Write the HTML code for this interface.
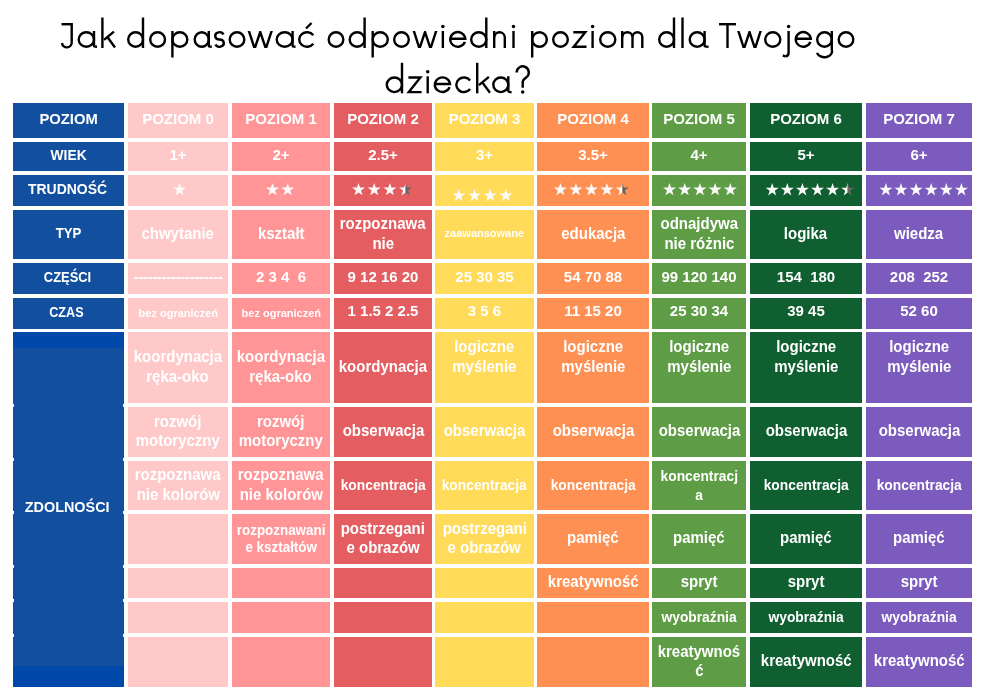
<!DOCTYPE html>
<html><head><meta charset="utf-8"><style>
html,body{margin:0;padding:0;background:#fff;width:1000px;height:695px;overflow:hidden;position:relative}
body{font-family:"Liberation Sans",sans-serif;-webkit-font-smoothing:antialiased}
.c,.t{will-change:transform}
.c{position:absolute;display:flex;flex-direction:column;align-items:center;justify-content:center;color:#fff;font-weight:bold;text-align:center;white-space:nowrap}
.c span{display:block}
.t{position:absolute;left:0;width:1000px;text-align:center;color:#000;font-size:36px;white-space:nowrap;-webkit-text-stroke:0.5px #fff}
</style></head><body>

<svg style="position:absolute;left:0;top:0" width="1000" height="100" fill="none" stroke="#000" stroke-width="2.4" stroke-linecap="butt" stroke-linejoin="miter"><clipPath id="cl0"><rect x="0" y="31" width="1000" height="17"/></clipPath><path d="M61.5 24.2H72.9"/><path d="M71.7 24.2V41.95A4.85 4.85 0 0 1 62 43"/><path d="M78.7 39.5A7.65 7.3 0 1 0 94 39.5A7.65 7.3 0 1 0 78.7 39.5"/><path d="M94 31V45.8Q94 46.8 97 46.8"/><path d="M102.4 17.5V48"/><path d="M104 39.8L113.9 31.6"/><path d="M107.2 36.8L115 47.5"/><path d="M128.2 39.5A7.4 7.3 0 1 0 143 39.5A7.4 7.3 0 1 0 128.2 39.5"/><path d="M143 17.5V48"/><path d="M150.2 39.5A7.4 7.3 0 1 0 165 39.5A7.4 7.3 0 1 0 150.2 39.5"/><path d="M172.4 39.5A7.45 7.3 0 1 0 187.3 39.5A7.45 7.3 0 1 0 172.4 39.5"/><path d="M172.4 31V57.5"/><path d="M194.7 39.5A7.05 7.3 0 1 0 208.8 39.5A7.05 7.3 0 1 0 194.7 39.5"/><path d="M208.8 31V45.8Q208.8 46.8 211.8 46.8"/><path d="M223.49 34.48A4.3 3.65 0 1 0 219.5 39.5A4.3 3.65 0 1 1 215.51 44.52"/><path d="M229.7 39.5A7.3 7.3 0 1 0 244.3 39.5A7.3 7.3 0 1 0 229.7 39.5"/><path d="M276.7 39.5A7.95 7.3 0 1 0 292.6 39.5A7.95 7.3 0 1 0 276.7 39.5"/><path d="M292.6 31V45.8Q292.6 46.8 295.5 46.8"/><path d="M313.3 35.21A7.79 7.3 0 1 0 313.3 43.79"/><path d="M306 28.5L311.5 23"/><path d="M328.7 39.5A7.3 7.3 0 1 0 343.3 39.5A7.3 7.3 0 1 0 328.7 39.5"/><path d="M349.7 39.5A7.45 7.3 0 1 0 364.6 39.5A7.45 7.3 0 1 0 349.7 39.5"/><path d="M364.6 17.5V48"/><path d="M372.7 39.5A7.55 7.3 0 1 0 387.8 39.5A7.55 7.3 0 1 0 372.7 39.5"/><path d="M372.7 31V57.5"/><path d="M394.2 39.5A7.3 7.3 0 1 0 408.8 39.5A7.3 7.3 0 1 0 394.2 39.5"/><path d="M442.85 31V48"/><path d="M450.2 38.7H465.3A7.55 7.3 0 1 0 464.89 41.88"/><path d="M471.2 39.5A7.55 7.3 0 1 0 486.3 39.5A7.55 7.3 0 1 0 471.2 39.5"/><path d="M486.3 17.5V48"/><path d="M494.2 31V48"/><path d="M494.2 37.5A5.3 5.3 0 0 1 504.8 37.5V48"/><path d="M513.5 31V48"/><path d="M532.2 39.5A7.3 7.3 0 1 0 546.8 39.5A7.3 7.3 0 1 0 532.2 39.5"/><path d="M532.2 31V57.5"/><path d="M553.2 39.5A7.3 7.3 0 1 0 567.8 39.5A7.3 7.3 0 1 0 553.2 39.5"/><path d="M573.3 32.2L585.3 32.2L573.7 46.8L586.5 46.8"/><path d="M592.6 31V48"/><path d="M600.2 39.5A7.55 7.3 0 1 0 615.3 39.5A7.55 7.3 0 1 0 600.2 39.5"/><path d="M622.2 31V48"/><path d="M622.2 37.35A5.15 5.15 0 0 1 632.5 37.35V48"/><path d="M632.5 37.1A4.9 4.9 0 0 1 642.3 37.1V48"/><path d="M659.2 39.5A7.4 7.3 0 1 0 674 39.5A7.4 7.3 0 1 0 659.2 39.5"/><path d="M674 17.5V48"/><path d="M682.5 17.5V48"/><path d="M689.7 39.5A7.45 7.3 0 1 0 704.6 39.5A7.45 7.3 0 1 0 689.7 39.5"/><path d="M704.6 31V45.8Q704.6 46.8 708.5 46.8"/><path d="M719 24.2H736"/><path d="M727.5 23V48"/><path d="M765.2 39.5A7.55 7.3 0 1 0 780.3 39.5A7.55 7.3 0 1 0 765.2 39.5"/><path d="M788.6 31V52.5Q788.6 56.3 785.3 56.3"/><path d="M785.4 56.3L782.8 55.5"/><path d="M795.7 38.7H810.8A7.55 7.3 0 1 0 810.39 41.88"/><path d="M817.2 39.5A7.3 7.3 0 1 0 831.8 39.5A7.3 7.3 0 1 0 817.2 39.5"/><path d="M831.8 31V49.5A7.3 5.69 0 0 1 817 52.9"/><path d="M838.7 39.5A7.3 7.3 0 1 0 853.3 39.5A7.3 7.3 0 1 0 838.7 39.5"/><path d="M247.9 28L254.64 48.6L260.25 32L265.86 48.6L272.6 28" clip-path="url(#cl0)"/><path d="M412.9 28L419.5 48.6L425 32L430.5 48.6L437.1 28" clip-path="url(#cl0)"/><path d="M737.4 28L744 48.6L749.5 32L755 48.6L761.6 28" clip-path="url(#cl0)"/><circle cx="442.85" cy="26.5" r="1.75" stroke="none" fill="#000"/><circle cx="513.5" cy="26.5" r="1.75" stroke="none" fill="#000"/><circle cx="592.6" cy="26.5" r="1.75" stroke="none" fill="#000"/><circle cx="788.6" cy="26.5" r="1.75" stroke="none" fill="#000"/><clipPath id="cl45"><rect x="0" y="76.3" width="1000" height="17"/></clipPath><path d="M386.8 84.8A7.6 7.3 0 1 0 402 84.8A7.6 7.3 0 1 0 386.8 84.8"/><path d="M402 62.8V93.3"/><path d="M408.4 77.5L420.4 77.5L408.8 92.1L421.6 92.1"/><path d="M427.7 76.3V93.3"/><path d="M434.8 84H450A7.6 7.3 0 1 0 449.59 87.18"/><path d="M470.1 80.51A7.63 7.3 0 1 0 470.1 89.09"/><path d="M477.2 62.8V93.3"/><path d="M478.9 85.1L488.9 76.9"/><path d="M482.1 82.1L490 92.8"/><path d="M493.3 84.8A7.5 7.3 0 1 0 508.3 84.8A7.5 7.3 0 1 0 493.3 84.8"/><path d="M508.3 76.3V91.1Q508.3 92.1 511.6 92.1"/><path d="M516.7 72.45A6.05 6.05 0 1 1 526.08 77.47Q522.7 80 522.7 82 V87.8"/><circle cx="427.7" cy="71.8" r="1.75" stroke="none" fill="#000"/><circle cx="522.7" cy="92" r="1.75" stroke="none" fill="#000"/></svg>
<div style="position:absolute;left:13px;top:103px;width:110.8px;height:34.69999999999999px;background:#124f9f"></div>
<div style="position:absolute;left:13px;top:141.7px;width:110.8px;height:29.600000000000023px;background:#124f9f"></div>
<div style="position:absolute;left:13px;top:175px;width:110.8px;height:30.599999999999994px;background:#124f9f"></div>
<div style="position:absolute;left:13px;top:209.6px;width:110.8px;height:49.70000000000002px;background:#124f9f"></div>
<div style="position:absolute;left:13px;top:263px;width:110.8px;height:31px;background:#124f9f"></div>
<div style="position:absolute;left:13px;top:298px;width:110.8px;height:30.5px;background:#124f9f"></div>
<div style="position:absolute;left:127.5px;top:103px;width:100.5px;height:34.69999999999999px;background:#ffc9ca"></div>
<div style="position:absolute;left:127.5px;top:141.7px;width:100.5px;height:29.600000000000023px;background:#ffc9ca"></div>
<div style="position:absolute;left:127.5px;top:175px;width:100.5px;height:30.599999999999994px;background:#ffc9ca"></div>
<div style="position:absolute;left:127.5px;top:209.6px;width:100.5px;height:49.70000000000002px;background:#ffc9ca"></div>
<div style="position:absolute;left:127.5px;top:263px;width:100.5px;height:31px;background:#ffc9ca"></div>
<div style="position:absolute;left:127.5px;top:298px;width:100.5px;height:30.5px;background:#ffc9ca"></div>
<div style="position:absolute;left:127.5px;top:331.8px;width:100.5px;height:71.19999999999999px;background:#ffc9ca"></div>
<div style="position:absolute;left:127.5px;top:406.9px;width:100.5px;height:50.10000000000002px;background:#ffc9ca"></div>
<div style="position:absolute;left:127.5px;top:460.8px;width:100.5px;height:49.19999999999999px;background:#ffc9ca"></div>
<div style="position:absolute;left:127.5px;top:514px;width:100.5px;height:49.700000000000045px;background:#ffc9ca"></div>
<div style="position:absolute;left:127.5px;top:567.8px;width:100.5px;height:30.5px;background:#ffc9ca"></div>
<div style="position:absolute;left:127.5px;top:602.3px;width:100.5px;height:30.300000000000068px;background:#ffc9ca"></div>
<div style="position:absolute;left:127.5px;top:636.7px;width:100.5px;height:50.0px;background:#ffc9ca"></div>
<div style="position:absolute;left:232px;top:103px;width:98px;height:34.69999999999999px;background:#ff9596"></div>
<div style="position:absolute;left:232px;top:141.7px;width:98px;height:29.600000000000023px;background:#ff9596"></div>
<div style="position:absolute;left:232px;top:175px;width:98px;height:30.599999999999994px;background:#ff9596"></div>
<div style="position:absolute;left:232px;top:209.6px;width:98px;height:49.70000000000002px;background:#ff9596"></div>
<div style="position:absolute;left:232px;top:263px;width:98px;height:31px;background:#ff9596"></div>
<div style="position:absolute;left:232px;top:298px;width:98px;height:30.5px;background:#ff9596"></div>
<div style="position:absolute;left:232px;top:331.8px;width:98px;height:71.19999999999999px;background:#ff9596"></div>
<div style="position:absolute;left:232px;top:406.9px;width:98px;height:50.10000000000002px;background:#ff9596"></div>
<div style="position:absolute;left:232px;top:460.8px;width:98px;height:49.19999999999999px;background:#ff9596"></div>
<div style="position:absolute;left:232px;top:514px;width:98px;height:49.700000000000045px;background:#ff9596"></div>
<div style="position:absolute;left:232px;top:567.8px;width:98px;height:30.5px;background:#ff9596"></div>
<div style="position:absolute;left:232px;top:602.3px;width:98px;height:30.300000000000068px;background:#ff9596"></div>
<div style="position:absolute;left:232px;top:636.7px;width:98px;height:50.0px;background:#ff9596"></div>
<div style="position:absolute;left:333.6px;top:103px;width:98.09999999999997px;height:34.69999999999999px;background:#e35d61"></div>
<div style="position:absolute;left:333.6px;top:141.7px;width:98.09999999999997px;height:29.600000000000023px;background:#e35d61"></div>
<div style="position:absolute;left:333.6px;top:175px;width:98.09999999999997px;height:30.599999999999994px;background:#e35d61"></div>
<div style="position:absolute;left:333.6px;top:209.6px;width:98.09999999999997px;height:49.70000000000002px;background:#e35d61"></div>
<div style="position:absolute;left:333.6px;top:263px;width:98.09999999999997px;height:31px;background:#e35d61"></div>
<div style="position:absolute;left:333.6px;top:298px;width:98.09999999999997px;height:30.5px;background:#e35d61"></div>
<div style="position:absolute;left:333.6px;top:331.8px;width:98.09999999999997px;height:71.19999999999999px;background:#e35d61"></div>
<div style="position:absolute;left:333.6px;top:406.9px;width:98.09999999999997px;height:50.10000000000002px;background:#e35d61"></div>
<div style="position:absolute;left:333.6px;top:460.8px;width:98.09999999999997px;height:49.19999999999999px;background:#e35d61"></div>
<div style="position:absolute;left:333.6px;top:514px;width:98.09999999999997px;height:49.700000000000045px;background:#e35d61"></div>
<div style="position:absolute;left:333.6px;top:567.8px;width:98.09999999999997px;height:30.5px;background:#e35d61"></div>
<div style="position:absolute;left:333.6px;top:602.3px;width:98.09999999999997px;height:30.300000000000068px;background:#e35d61"></div>
<div style="position:absolute;left:333.6px;top:636.7px;width:98.09999999999997px;height:50.0px;background:#e35d61"></div>
<div style="position:absolute;left:435.4px;top:103px;width:98.20000000000005px;height:34.69999999999999px;background:#ffdb59"></div>
<div style="position:absolute;left:435.4px;top:141.7px;width:98.20000000000005px;height:29.600000000000023px;background:#ffdb59"></div>
<div style="position:absolute;left:435.4px;top:175px;width:98.20000000000005px;height:30.599999999999994px;background:#ffdb59"></div>
<div style="position:absolute;left:435.4px;top:209.6px;width:98.20000000000005px;height:49.70000000000002px;background:#ffdb59"></div>
<div style="position:absolute;left:435.4px;top:263px;width:98.20000000000005px;height:31px;background:#ffdb59"></div>
<div style="position:absolute;left:435.4px;top:298px;width:98.20000000000005px;height:30.5px;background:#ffdb59"></div>
<div style="position:absolute;left:435.4px;top:331.8px;width:98.20000000000005px;height:71.19999999999999px;background:#ffdb59"></div>
<div style="position:absolute;left:435.4px;top:406.9px;width:98.20000000000005px;height:50.10000000000002px;background:#ffdb59"></div>
<div style="position:absolute;left:435.4px;top:460.8px;width:98.20000000000005px;height:49.19999999999999px;background:#ffdb59"></div>
<div style="position:absolute;left:435.4px;top:514px;width:98.20000000000005px;height:49.700000000000045px;background:#ffdb59"></div>
<div style="position:absolute;left:435.4px;top:567.8px;width:98.20000000000005px;height:30.5px;background:#ffdb59"></div>
<div style="position:absolute;left:435.4px;top:602.3px;width:98.20000000000005px;height:30.300000000000068px;background:#ffdb59"></div>
<div style="position:absolute;left:435.4px;top:636.7px;width:98.20000000000005px;height:50.0px;background:#ffdb59"></div>
<div style="position:absolute;left:537.2px;top:103px;width:111.59999999999991px;height:34.69999999999999px;background:#fd9052"></div>
<div style="position:absolute;left:537.2px;top:141.7px;width:111.59999999999991px;height:29.600000000000023px;background:#fd9052"></div>
<div style="position:absolute;left:537.2px;top:175px;width:111.59999999999991px;height:30.599999999999994px;background:#fd9052"></div>
<div style="position:absolute;left:537.2px;top:209.6px;width:111.59999999999991px;height:49.70000000000002px;background:#fd9052"></div>
<div style="position:absolute;left:537.2px;top:263px;width:111.59999999999991px;height:31px;background:#fd9052"></div>
<div style="position:absolute;left:537.2px;top:298px;width:111.59999999999991px;height:30.5px;background:#fd9052"></div>
<div style="position:absolute;left:537.2px;top:331.8px;width:111.59999999999991px;height:71.19999999999999px;background:#fd9052"></div>
<div style="position:absolute;left:537.2px;top:406.9px;width:111.59999999999991px;height:50.10000000000002px;background:#fd9052"></div>
<div style="position:absolute;left:537.2px;top:460.8px;width:111.59999999999991px;height:49.19999999999999px;background:#fd9052"></div>
<div style="position:absolute;left:537.2px;top:514px;width:111.59999999999991px;height:49.700000000000045px;background:#fd9052"></div>
<div style="position:absolute;left:537.2px;top:567.8px;width:111.59999999999991px;height:30.5px;background:#fd9052"></div>
<div style="position:absolute;left:537.2px;top:602.3px;width:111.59999999999991px;height:30.300000000000068px;background:#fd9052"></div>
<div style="position:absolute;left:537.2px;top:636.7px;width:111.59999999999991px;height:50.0px;background:#fd9052"></div>
<div style="position:absolute;left:652.2px;top:103px;width:93.79999999999995px;height:34.69999999999999px;background:#5e9c45"></div>
<div style="position:absolute;left:652.2px;top:141.7px;width:93.79999999999995px;height:29.600000000000023px;background:#5e9c45"></div>
<div style="position:absolute;left:652.2px;top:175px;width:93.79999999999995px;height:30.599999999999994px;background:#5e9c45"></div>
<div style="position:absolute;left:652.2px;top:209.6px;width:93.79999999999995px;height:49.70000000000002px;background:#5e9c45"></div>
<div style="position:absolute;left:652.2px;top:263px;width:93.79999999999995px;height:31px;background:#5e9c45"></div>
<div style="position:absolute;left:652.2px;top:298px;width:93.79999999999995px;height:30.5px;background:#5e9c45"></div>
<div style="position:absolute;left:652.2px;top:331.8px;width:93.79999999999995px;height:71.19999999999999px;background:#5e9c45"></div>
<div style="position:absolute;left:652.2px;top:406.9px;width:93.79999999999995px;height:50.10000000000002px;background:#5e9c45"></div>
<div style="position:absolute;left:652.2px;top:460.8px;width:93.79999999999995px;height:49.19999999999999px;background:#5e9c45"></div>
<div style="position:absolute;left:652.2px;top:514px;width:93.79999999999995px;height:49.700000000000045px;background:#5e9c45"></div>
<div style="position:absolute;left:652.2px;top:567.8px;width:93.79999999999995px;height:30.5px;background:#5e9c45"></div>
<div style="position:absolute;left:652.2px;top:602.3px;width:93.79999999999995px;height:30.300000000000068px;background:#5e9c45"></div>
<div style="position:absolute;left:652.2px;top:636.7px;width:93.79999999999995px;height:50.0px;background:#5e9c45"></div>
<div style="position:absolute;left:749.7px;top:103px;width:112.29999999999995px;height:34.69999999999999px;background:#105f31"></div>
<div style="position:absolute;left:749.7px;top:141.7px;width:112.29999999999995px;height:29.600000000000023px;background:#105f31"></div>
<div style="position:absolute;left:749.7px;top:175px;width:112.29999999999995px;height:30.599999999999994px;background:#105f31"></div>
<div style="position:absolute;left:749.7px;top:209.6px;width:112.29999999999995px;height:49.70000000000002px;background:#105f31"></div>
<div style="position:absolute;left:749.7px;top:263px;width:112.29999999999995px;height:31px;background:#105f31"></div>
<div style="position:absolute;left:749.7px;top:298px;width:112.29999999999995px;height:30.5px;background:#105f31"></div>
<div style="position:absolute;left:749.7px;top:331.8px;width:112.29999999999995px;height:71.19999999999999px;background:#105f31"></div>
<div style="position:absolute;left:749.7px;top:406.9px;width:112.29999999999995px;height:50.10000000000002px;background:#105f31"></div>
<div style="position:absolute;left:749.7px;top:460.8px;width:112.29999999999995px;height:49.19999999999999px;background:#105f31"></div>
<div style="position:absolute;left:749.7px;top:514px;width:112.29999999999995px;height:49.700000000000045px;background:#105f31"></div>
<div style="position:absolute;left:749.7px;top:567.8px;width:112.29999999999995px;height:30.5px;background:#105f31"></div>
<div style="position:absolute;left:749.7px;top:602.3px;width:112.29999999999995px;height:30.300000000000068px;background:#105f31"></div>
<div style="position:absolute;left:749.7px;top:636.7px;width:112.29999999999995px;height:50.0px;background:#105f31"></div>
<div style="position:absolute;left:865.8px;top:103px;width:106.40000000000009px;height:34.69999999999999px;background:#7b5bbd"></div>
<div style="position:absolute;left:865.8px;top:141.7px;width:106.40000000000009px;height:29.600000000000023px;background:#7b5bbd"></div>
<div style="position:absolute;left:865.8px;top:175px;width:106.40000000000009px;height:30.599999999999994px;background:#7b5bbd"></div>
<div style="position:absolute;left:865.8px;top:209.6px;width:106.40000000000009px;height:49.70000000000002px;background:#7b5bbd"></div>
<div style="position:absolute;left:865.8px;top:263px;width:106.40000000000009px;height:31px;background:#7b5bbd"></div>
<div style="position:absolute;left:865.8px;top:298px;width:106.40000000000009px;height:30.5px;background:#7b5bbd"></div>
<div style="position:absolute;left:865.8px;top:331.8px;width:106.40000000000009px;height:71.19999999999999px;background:#7b5bbd"></div>
<div style="position:absolute;left:865.8px;top:406.9px;width:106.40000000000009px;height:50.10000000000002px;background:#7b5bbd"></div>
<div style="position:absolute;left:865.8px;top:460.8px;width:106.40000000000009px;height:49.19999999999999px;background:#7b5bbd"></div>
<div style="position:absolute;left:865.8px;top:514px;width:106.40000000000009px;height:49.700000000000045px;background:#7b5bbd"></div>
<div style="position:absolute;left:865.8px;top:567.8px;width:106.40000000000009px;height:30.5px;background:#7b5bbd"></div>
<div style="position:absolute;left:865.8px;top:602.3px;width:106.40000000000009px;height:30.300000000000068px;background:#7b5bbd"></div>
<div style="position:absolute;left:865.8px;top:636.7px;width:106.40000000000009px;height:50.0px;background:#7b5bbd"></div>
<div style="position:absolute;left:13px;top:331.8px;width:110.8px;height:354.90000000000003px;background:#124f9f"></div>
<div style="position:absolute;left:13px;top:331.8px;width:110.8px;height:16.0px;background:#0049ab"></div>
<div style="position:absolute;left:13px;top:666px;width:110.8px;height:20.700000000000045px;background:#0049ab"></div>
<div style="position:absolute;left:123px;top:403.5px;width:1px;height:3.0px;background:#fff"></div>
<div style="position:absolute;left:13px;top:403.5px;width:0.5999999999999996px;height:3.0px;background:#fff"></div>
<div style="position:absolute;left:123px;top:457.5px;width:1px;height:3.0px;background:#fff"></div>
<div style="position:absolute;left:13px;top:457.5px;width:0.5999999999999996px;height:3.0px;background:#fff"></div>
<div style="position:absolute;left:123px;top:510.5px;width:1px;height:3.0px;background:#fff"></div>
<div style="position:absolute;left:13px;top:510.5px;width:0.5999999999999996px;height:3.0px;background:#fff"></div>
<div style="position:absolute;left:123px;top:564.5px;width:1px;height:3.0px;background:#fff"></div>
<div style="position:absolute;left:13px;top:564.5px;width:0.5999999999999996px;height:3.0px;background:#fff"></div>
<div style="position:absolute;left:123px;top:598.5px;width:1px;height:3.0px;background:#fff"></div>
<div style="position:absolute;left:13px;top:598.5px;width:0.5999999999999996px;height:3.0px;background:#fff"></div>
<div style="position:absolute;left:123px;top:633.5px;width:1px;height:3.0px;background:#fff"></div>
<div style="position:absolute;left:13px;top:633.5px;width:0.5999999999999996px;height:3.0px;background:#fff"></div>
<div class="c" style="left:12.5px;top:101px;width:111px;height:35px;font-size:15.00px;line-height:19.5px"><span style=";transform:scaleX(0.9850)">POZIOM</span></div>
<div class="c" style="left:12.5px;top:140px;width:111px;height:29px;font-size:15.00px;line-height:19.5px"><span style=";transform:scaleX(0.9200)">WIEK</span></div>
<div class="c" style="left:12px;top:173px;width:111px;height:31px;font-size:15.00px;line-height:19.5px"><span style=";transform:scaleX(0.9300)">TRUDNOŚĆ</span></div>
<div class="c" style="left:12.5px;top:208px;width:111px;height:49px;font-size:15.00px;line-height:19.5px"><span style=";transform:scaleX(0.8800)">TYP</span></div>
<div class="c" style="left:12px;top:261px;width:111px;height:31px;font-size:15.00px;line-height:19.5px"><span style=";transform:scaleX(0.8600)">CZĘŚCI</span></div>
<div class="c" style="left:11px;top:296.7px;width:111px;height:30px;font-size:15.00px;line-height:19.5px"><span style=";transform:scaleX(0.8400)">CZAS</span></div>
<div class="c" style="left:12px;top:328.5px;width:111px;height:355px;font-size:15.00px;line-height:19.5px"><span style=";transform:scaleX(0.9600)">ZDOLNOŚCI</span></div>
<div class="c" style="left:128px;top:101px;width:100px;height:35px;font-size:15.00px;line-height:19.5px"><span>POZIOM 0</span></div>
<div class="c" style="left:232px;top:101px;width:98px;height:35px;font-size:15.00px;line-height:19.5px"><span>POZIOM 1</span></div>
<div class="c" style="left:334px;top:101px;width:98px;height:35px;font-size:15.00px;line-height:19.5px"><span>POZIOM 2</span></div>
<div class="c" style="left:435px;top:101px;width:99px;height:35px;font-size:15.00px;line-height:19.5px"><span>POZIOM 3</span></div>
<div class="c" style="left:537px;top:101px;width:112px;height:35px;font-size:15.00px;line-height:19.5px"><span>POZIOM 4</span></div>
<div class="c" style="left:652px;top:101px;width:94px;height:35px;font-size:15.00px;line-height:19.5px"><span>POZIOM 5</span></div>
<div class="c" style="left:750px;top:101px;width:112px;height:35px;font-size:15.00px;line-height:19.5px"><span>POZIOM 6</span></div>
<div class="c" style="left:866px;top:101px;width:106px;height:35px;font-size:15.00px;line-height:19.5px"><span>POZIOM 7</span></div>
<div class="c" style="left:128px;top:140px;width:100px;height:29px;font-size:15.00px;line-height:19.5px"><span>1+</span></div>
<div class="c" style="left:232px;top:140px;width:98px;height:29px;font-size:15.00px;line-height:19.5px"><span>2+</span></div>
<div class="c" style="left:334px;top:140px;width:98px;height:29px;font-size:15.00px;line-height:19.5px"><span>2.5+</span></div>
<div class="c" style="left:435px;top:140px;width:99px;height:29px;font-size:15.00px;line-height:19.5px"><span>3+</span></div>
<div class="c" style="left:537px;top:140px;width:112px;height:29px;font-size:15.00px;line-height:19.5px"><span>3.5+</span></div>
<div class="c" style="left:652px;top:140px;width:94px;height:29px;font-size:15.00px;line-height:19.5px"><span>4+</span></div>
<div class="c" style="left:750px;top:140px;width:112px;height:29px;font-size:15.00px;line-height:19.5px"><span>5+</span></div>
<div class="c" style="left:866px;top:140px;width:106px;height:29px;font-size:15.00px;line-height:19.5px"><span>6+</span></div>
<div class="c" style="left:128px;top:208.6px;width:100px;height:49px;font-size:15.60px;line-height:19.5px"><span style=";transform:scaleX(0.9615)">chwytanie</span></div>
<div class="c" style="left:232px;top:208.6px;width:98px;height:49px;font-size:15.60px;line-height:19.5px"><span style=";transform:scaleX(0.9615)">kształt</span></div>
<div class="c" style="left:334px;top:208.6px;width:98px;height:49px;font-size:15.60px;line-height:19.5px"><span style=";transform:scaleX(0.9615)">rozpoznawa</span><span style=";transform:scaleX(0.9615)">nie</span></div>
<div class="c" style="left:435px;top:208.6px;width:99px;height:49px;font-size:11.44px;line-height:19.5px"><span style=";transform:scaleX(0.9615)">zaawansowane</span></div>
<div class="c" style="left:537px;top:208.6px;width:112px;height:49px;font-size:15.60px;line-height:19.5px"><span style=";transform:scaleX(0.9615)">edukacja</span></div>
<div class="c" style="left:652px;top:208.6px;width:94px;height:49px;font-size:15.60px;line-height:19.5px"><span style=";transform:scaleX(0.9615)">odnajdywa</span><span style=";transform:scaleX(0.9615)">nie różnic</span></div>
<div class="c" style="left:750px;top:208.6px;width:112px;height:49px;font-size:15.60px;line-height:19.5px"><span style=";transform:scaleX(0.9615)">logika</span></div>
<div class="c" style="left:866px;top:208.6px;width:106px;height:49px;font-size:15.60px;line-height:19.5px"><span style=";transform:scaleX(0.9615)">wiedza</span></div>
<div class="c" style="left:128px;top:261px;width:100px;height:31px;font-size:15.00px;line-height:19.5px;letter-spacing:-0.3px"><span>-------------------</span></div>
<div class="c" style="left:232px;top:261px;width:98px;height:31px;font-size:15.00px;line-height:19.5px"><span>2 3 4&nbsp; 6</span></div>
<div class="c" style="left:334px;top:261px;width:98px;height:31px;font-size:15.00px;line-height:19.5px"><span>9 12 16 20</span></div>
<div class="c" style="left:435px;top:261px;width:99px;height:31px;font-size:15.00px;line-height:19.5px"><span>25 30 35</span></div>
<div class="c" style="left:537px;top:261px;width:112px;height:31px;font-size:15.00px;line-height:19.5px"><span>54 70 88</span></div>
<div class="c" style="left:652px;top:261px;width:94px;height:31px;font-size:15.00px;line-height:19.5px"><span>99 120 140</span></div>
<div class="c" style="left:750px;top:261px;width:112px;height:31px;font-size:15.00px;line-height:19.5px"><span>154&nbsp; 180</span></div>
<div class="c" style="left:866px;top:261px;width:106px;height:31px;font-size:15.00px;line-height:19.5px"><span>208&nbsp; 252</span></div>
<div class="c" style="left:128px;top:298.6px;width:100px;height:30px;font-size:11.44px;line-height:19.5px"><span style=";transform:scaleX(0.9615)">bez ograniczeń</span></div>
<div class="c" style="left:232px;top:298.6px;width:98px;height:30px;font-size:11.44px;line-height:19.5px"><span style=";transform:scaleX(0.9615)">bez ograniczeń</span></div>
<div class="c" style="left:334px;top:296px;width:98px;height:30px;font-size:15.00px;line-height:19.5px"><span>1 1.5 2 2.5</span></div>
<div class="c" style="left:435px;top:296px;width:99px;height:30px;font-size:15.00px;line-height:19.5px"><span>3 5 6</span></div>
<div class="c" style="left:537px;top:296px;width:112px;height:30px;font-size:15.00px;line-height:19.5px"><span>11 15 20</span></div>
<div class="c" style="left:652px;top:296px;width:94px;height:30px;font-size:15.00px;line-height:19.5px"><span>25 30 34</span></div>
<div class="c" style="left:750px;top:296px;width:112px;height:30px;font-size:15.00px;line-height:19.5px"><span>39 45</span></div>
<div class="c" style="left:866px;top:296px;width:106px;height:30px;font-size:15.00px;line-height:19.5px"><span>52 60</span></div>
<div class="c" style="left:128px;top:330.6px;width:100px;height:71px;font-size:15.60px;line-height:19.5px"><span style=";transform:scaleX(0.9615)">koordynacja</span><span style=";transform:scaleX(0.9615)">ręka-oko</span></div>
<div class="c" style="left:232px;top:330.6px;width:98px;height:71px;font-size:15.60px;line-height:19.5px"><span style=";transform:scaleX(0.9615)">koordynacja</span><span style=";transform:scaleX(0.9615)">ręka-oko</span></div>
<div class="c" style="left:334px;top:330.6px;width:98px;height:71px;font-size:15.60px;line-height:19.5px"><span style=";transform:scaleX(0.9615)">koordynacja</span></div>
<div class="c" style="left:435px;top:321.1px;width:99px;height:71px;font-size:15.60px;line-height:19.5px"><span style=";transform:scaleX(0.9615)">logiczne</span><span style=";transform:scaleX(0.9615)">myślenie</span></div>
<div class="c" style="left:537px;top:321.1px;width:112px;height:71px;font-size:15.60px;line-height:19.5px"><span style=";transform:scaleX(0.9615)">logiczne</span><span style=";transform:scaleX(0.9615)">myślenie</span></div>
<div class="c" style="left:652px;top:321.1px;width:94px;height:71px;font-size:15.60px;line-height:19.5px"><span style=";transform:scaleX(0.9615)">logiczne</span><span style=";transform:scaleX(0.9615)">myślenie</span></div>
<div class="c" style="left:750px;top:321.1px;width:112px;height:71px;font-size:15.60px;line-height:19.5px"><span style=";transform:scaleX(0.9615)">logiczne</span><span style=";transform:scaleX(0.9615)">myślenie</span></div>
<div class="c" style="left:866px;top:321.1px;width:106px;height:71px;font-size:15.60px;line-height:19.5px"><span style=";transform:scaleX(0.9615)">logiczne</span><span style=";transform:scaleX(0.9615)">myślenie</span></div>
<div class="c" style="left:128px;top:405.6px;width:100px;height:50px;font-size:15.60px;line-height:19.5px"><span style=";transform:scaleX(0.9615)">rozwój</span><span style=";transform:scaleX(0.9615)">motoryczny</span></div>
<div class="c" style="left:232px;top:405.6px;width:98px;height:50px;font-size:15.60px;line-height:19.5px"><span style=";transform:scaleX(0.9615)">rozwój</span><span style=";transform:scaleX(0.9615)">motoryczny</span></div>
<div class="c" style="left:334px;top:405.6px;width:98px;height:50px;font-size:15.60px;line-height:19.5px"><span style=";transform:scaleX(0.9615)">obserwacja</span></div>
<div class="c" style="left:435px;top:405.6px;width:99px;height:50px;font-size:15.60px;line-height:19.5px"><span style=";transform:scaleX(0.9615)">obserwacja</span></div>
<div class="c" style="left:537px;top:405.6px;width:112px;height:50px;font-size:15.60px;line-height:19.5px"><span style=";transform:scaleX(0.9615)">obserwacja</span></div>
<div class="c" style="left:652px;top:405.6px;width:94px;height:50px;font-size:15.60px;line-height:19.5px"><span style=";transform:scaleX(0.9615)">obserwacja</span></div>
<div class="c" style="left:750px;top:405.6px;width:112px;height:50px;font-size:15.60px;line-height:19.5px"><span style=";transform:scaleX(0.9615)">obserwacja</span></div>
<div class="c" style="left:866px;top:405.6px;width:106px;height:50px;font-size:15.60px;line-height:19.5px"><span style=";transform:scaleX(0.9615)">obserwacja</span></div>
<div class="c" style="left:128px;top:459.6px;width:100px;height:49px;font-size:15.60px;line-height:19.5px"><span style=";transform:scaleX(0.9615)">rozpoznawa</span><span style=";transform:scaleX(0.9615)">nie kolorów</span></div>
<div class="c" style="left:232px;top:459.6px;width:98px;height:49px;font-size:15.60px;line-height:19.5px"><span style=";transform:scaleX(0.9615)">rozpoznawa</span><span style=";transform:scaleX(0.9615)">nie kolorów</span></div>
<div class="c" style="left:334px;top:460.6px;width:98px;height:49px;font-size:14.35px;line-height:19.5px"><span style=";transform:scaleX(0.9615)">koncentracja</span></div>
<div class="c" style="left:435px;top:460.6px;width:99px;height:49px;font-size:14.35px;line-height:19.5px"><span style=";transform:scaleX(0.9615)">koncentracja</span></div>
<div class="c" style="left:537px;top:460.6px;width:112px;height:49px;font-size:14.35px;line-height:19.5px"><span style=";transform:scaleX(0.9615)">koncentracja</span></div>
<div class="c" style="left:750px;top:460.6px;width:112px;height:49px;font-size:14.35px;line-height:19.5px"><span style=";transform:scaleX(0.9615)">koncentracja</span></div>
<div class="c" style="left:866px;top:460.6px;width:106px;height:49px;font-size:14.35px;line-height:19.5px"><span style=";transform:scaleX(0.9615)">koncentracja</span></div>
<div class="c" style="left:652px;top:460.6px;width:94px;height:49px;font-size:14.35px;line-height:18.4px"><span style=";transform:scaleX(0.9615)">koncentracj</span><span style=";transform:scaleX(0.9615)">a</span></div>
<div class="c" style="left:232px;top:514.1px;width:98px;height:50px;font-size:13.94px;line-height:17.2px"><span style=";transform:scaleX(0.9615)">rozpoznawani</span><span style=";transform:scaleX(0.9615)">e kształtów</span></div>
<div class="c" style="left:334px;top:512.6px;width:98px;height:50px;font-size:15.60px;line-height:19.5px"><span style=";transform:scaleX(0.9615)">postrzegani</span><span style=";transform:scaleX(0.9615)">e obrazów</span></div>
<div class="c" style="left:435px;top:512.6px;width:99px;height:50px;font-size:15.60px;line-height:19.5px"><span style=";transform:scaleX(0.9615)">postrzegani</span><span style=";transform:scaleX(0.9615)">e obrazów</span></div>
<div class="c" style="left:537px;top:512.6px;width:112px;height:50px;font-size:15.60px;line-height:19.5px"><span style=";transform:scaleX(0.9615)">pamięć</span></div>
<div class="c" style="left:652px;top:512.6px;width:94px;height:50px;font-size:15.60px;line-height:19.5px"><span style=";transform:scaleX(0.9615)">pamięć</span></div>
<div class="c" style="left:750px;top:512.6px;width:112px;height:50px;font-size:15.60px;line-height:19.5px"><span style=";transform:scaleX(0.9615)">pamięć</span></div>
<div class="c" style="left:866px;top:512.6px;width:106px;height:50px;font-size:15.60px;line-height:19.5px"><span style=";transform:scaleX(0.9615)">pamięć</span></div>
<div class="c" style="left:537px;top:566.6px;width:112px;height:30px;font-size:15.60px;line-height:19.5px"><span style=";transform:scaleX(0.9615)">kreatywność</span></div>
<div class="c" style="left:652px;top:566.6px;width:94px;height:30px;font-size:15.60px;line-height:19.5px"><span style=";transform:scaleX(0.9615)">spryt</span></div>
<div class="c" style="left:750px;top:566.6px;width:112px;height:30px;font-size:15.60px;line-height:19.5px"><span style=";transform:scaleX(0.9615)">spryt</span></div>
<div class="c" style="left:866px;top:566.6px;width:106px;height:30px;font-size:15.60px;line-height:19.5px"><span style=";transform:scaleX(0.9615)">spryt</span></div>
<div class="c" style="left:652px;top:601.6px;width:94px;height:31px;font-size:14.35px;line-height:19.5px"><span style=";transform:scaleX(0.9615)">wyobraźnia</span></div>
<div class="c" style="left:750px;top:601.6px;width:112px;height:31px;font-size:14.35px;line-height:19.5px"><span style=";transform:scaleX(0.9615)">wyobraźnia</span></div>
<div class="c" style="left:866px;top:601.6px;width:106px;height:31px;font-size:14.35px;line-height:19.5px"><span style=";transform:scaleX(0.9615)">wyobraźnia</span></div>
<div class="c" style="left:652px;top:635.6px;width:94px;height:50px;font-size:15.60px;line-height:19.5px"><span style=";transform:scaleX(0.9615)">kreatywnoś</span><span style=";transform:scaleX(0.9615)">ć</span></div>
<div class="c" style="left:750px;top:635.6px;width:112px;height:50px;font-size:15.60px;line-height:19.5px"><span style=";transform:scaleX(0.9615)">kreatywność</span></div>
<div class="c" style="left:866px;top:635.6px;width:106px;height:50px;font-size:15.60px;line-height:19.5px"><span style=";transform:scaleX(0.9615)">kreatywność</span></div>
<svg style="position:absolute;left:0;top:0" width="1000" height="695"><polygon points="179.50,182.90 181.07,187.58 186.00,187.62 182.04,190.56 183.52,195.26 179.50,192.40 175.48,195.26 176.96,190.56 173.00,187.62 177.93,187.58" fill="#fafafa"/><polygon points="272.50,182.90 274.07,187.58 279.00,187.62 275.04,190.56 276.52,195.26 272.50,192.40 268.48,195.26 269.96,190.56 266.00,187.62 270.93,187.58" fill="#fafafa"/><polygon points="287.70,182.90 289.27,187.58 294.20,187.62 290.24,190.56 291.72,195.26 287.70,192.40 283.68,195.26 285.16,190.56 281.20,187.62 286.13,187.58" fill="#fafafa"/><polygon points="358.50,182.90 360.07,187.58 365.00,187.62 361.04,190.56 362.52,195.26 358.50,192.40 354.48,195.26 355.96,190.56 352.00,187.62 356.93,187.58" fill="#fafafa"/><polygon points="374.20,182.90 375.77,187.58 380.70,187.62 376.74,190.56 378.22,195.26 374.20,192.40 370.18,195.26 371.66,190.56 367.70,187.62 372.63,187.58" fill="#fafafa"/><polygon points="389.90,182.90 391.47,187.58 396.40,187.62 392.44,190.56 393.92,195.26 389.90,192.40 385.88,195.26 387.36,190.56 383.40,187.62 388.33,187.58" fill="#fafafa"/><clipPath id="h405"><rect x="405.60" y="0" width="20" height="695"/></clipPath><clipPath id="g405"><rect x="385.60" y="0" width="20" height="695"/></clipPath><polygon points="405.60,182.90 407.17,187.58 412.10,187.62 408.14,190.56 409.62,195.26 405.60,192.40 401.58,195.26 403.06,190.56 399.10,187.62 404.03,187.58" fill="#fafafa" clip-path="url(#g405)"/><polygon points="405.60,182.90 407.17,187.58 412.10,187.62 408.14,190.56 409.62,195.26 405.60,192.40 401.58,195.26 403.06,190.56 399.10,187.62 404.03,187.58" fill="#666" clip-path="url(#h405)"/><polygon points="458.80,188.80 460.37,193.48 465.30,193.52 461.34,196.46 462.82,201.16 458.80,198.30 454.78,201.16 456.26,196.46 452.30,193.52 457.23,193.48" fill="#fafafa"/><polygon points="474.50,188.80 476.07,193.48 481.00,193.52 477.04,196.46 478.52,201.16 474.50,198.30 470.48,201.16 471.96,196.46 468.00,193.52 472.93,193.48" fill="#fafafa"/><polygon points="490.20,188.80 491.77,193.48 496.70,193.52 492.74,196.46 494.22,201.16 490.20,198.30 486.18,201.16 487.66,196.46 483.70,193.52 488.63,193.48" fill="#fafafa"/><polygon points="505.90,188.80 507.47,193.48 512.40,193.52 508.44,196.46 509.92,201.16 505.90,198.30 501.88,201.16 503.36,196.46 499.40,193.52 504.33,193.48" fill="#fafafa"/><polygon points="560.40,182.90 561.97,187.58 566.90,187.62 562.94,190.56 564.42,195.26 560.40,192.40 556.38,195.26 557.86,190.56 553.90,187.62 558.83,187.58" fill="#fafafa"/><polygon points="575.90,182.90 577.47,187.58 582.40,187.62 578.44,190.56 579.92,195.26 575.90,192.40 571.88,195.26 573.36,190.56 569.40,187.62 574.33,187.58" fill="#fafafa"/><polygon points="591.40,182.90 592.97,187.58 597.90,187.62 593.94,190.56 595.42,195.26 591.40,192.40 587.38,195.26 588.86,190.56 584.90,187.62 589.83,187.58" fill="#fafafa"/><polygon points="606.90,182.90 608.47,187.58 613.40,187.62 609.44,190.56 610.92,195.26 606.90,192.40 602.88,195.26 604.36,190.56 600.40,187.62 605.33,187.58" fill="#fafafa"/><clipPath id="h622"><rect x="622.40" y="0" width="20" height="695"/></clipPath><clipPath id="g622"><rect x="602.40" y="0" width="20" height="695"/></clipPath><polygon points="622.40,182.90 623.97,187.58 628.90,187.62 624.94,190.56 626.42,195.26 622.40,192.40 618.38,195.26 619.86,190.56 615.90,187.62 620.83,187.58" fill="#fafafa" clip-path="url(#g622)"/><polygon points="622.40,182.90 623.97,187.58 628.90,187.62 624.94,190.56 626.42,195.26 622.40,192.40 618.38,195.26 619.86,190.56 615.90,187.62 620.83,187.58" fill="#666" clip-path="url(#h622)"/><polygon points="669.50,182.90 671.07,187.58 676.00,187.62 672.04,190.56 673.52,195.26 669.50,192.40 665.48,195.26 666.96,190.56 663.00,187.62 667.93,187.58" fill="#fafafa"/><polygon points="684.70,182.90 686.27,187.58 691.20,187.62 687.24,190.56 688.72,195.26 684.70,192.40 680.68,195.26 682.16,190.56 678.20,187.62 683.13,187.58" fill="#fafafa"/><polygon points="699.90,182.90 701.47,187.58 706.40,187.62 702.44,190.56 703.92,195.26 699.90,192.40 695.88,195.26 697.36,190.56 693.40,187.62 698.33,187.58" fill="#fafafa"/><polygon points="715.10,182.90 716.67,187.58 721.60,187.62 717.64,190.56 719.12,195.26 715.10,192.40 711.08,195.26 712.56,190.56 708.60,187.62 713.53,187.58" fill="#fafafa"/><polygon points="730.30,182.90 731.87,187.58 736.80,187.62 732.84,190.56 734.32,195.26 730.30,192.40 726.28,195.26 727.76,190.56 723.80,187.62 728.73,187.58" fill="#fafafa"/><polygon points="772.20,183.10 773.77,187.78 778.70,187.82 774.74,190.76 776.22,195.46 772.20,192.60 768.18,195.46 769.66,190.76 765.70,187.82 770.63,187.78" fill="#fafafa"/><polygon points="787.30,183.10 788.87,187.78 793.80,187.82 789.84,190.76 791.32,195.46 787.30,192.60 783.28,195.46 784.76,190.76 780.80,187.82 785.73,187.78" fill="#fafafa"/><polygon points="802.40,183.10 803.97,187.78 808.90,187.82 804.94,190.76 806.42,195.46 802.40,192.60 798.38,195.46 799.86,190.76 795.90,187.82 800.83,187.78" fill="#fafafa"/><polygon points="817.50,183.10 819.07,187.78 824.00,187.82 820.04,190.76 821.52,195.46 817.50,192.60 813.48,195.46 814.96,190.76 811.00,187.82 815.93,187.78" fill="#fafafa"/><polygon points="832.60,183.10 834.17,187.78 839.10,187.82 835.14,190.76 836.62,195.46 832.60,192.60 828.58,195.46 830.06,190.76 826.10,187.82 831.03,187.78" fill="#fafafa"/><clipPath id="h847"><rect x="847.70" y="0" width="20" height="695"/></clipPath><clipPath id="g847"><rect x="827.70" y="0" width="20" height="695"/></clipPath><polygon points="847.70,183.10 849.27,187.78 854.20,187.82 850.24,190.76 851.72,195.46 847.70,192.60 843.68,195.46 845.16,190.76 841.20,187.82 846.13,187.78" fill="#fafafa" clip-path="url(#g847)"/><polygon points="847.70,183.10 849.27,187.78 854.20,187.82 850.24,190.76 851.72,195.46 847.70,192.60 843.68,195.46 845.16,190.76 841.20,187.82 846.13,187.78" fill="#666" clip-path="url(#h847)"/><polygon points="885.90,183.10 887.47,187.78 892.40,187.82 888.44,190.76 889.92,195.46 885.90,192.60 881.88,195.46 883.36,190.76 879.40,187.82 884.33,187.78" fill="#fafafa"/><polygon points="901.00,183.10 902.57,187.78 907.50,187.82 903.54,190.76 905.02,195.46 901.00,192.60 896.98,195.46 898.46,190.76 894.50,187.82 899.43,187.78" fill="#fafafa"/><polygon points="916.10,183.10 917.67,187.78 922.60,187.82 918.64,190.76 920.12,195.46 916.10,192.60 912.08,195.46 913.56,190.76 909.60,187.82 914.53,187.78" fill="#fafafa"/><polygon points="931.20,183.10 932.77,187.78 937.70,187.82 933.74,190.76 935.22,195.46 931.20,192.60 927.18,195.46 928.66,190.76 924.70,187.82 929.63,187.78" fill="#fafafa"/><polygon points="946.30,183.10 947.87,187.78 952.80,187.82 948.84,190.76 950.32,195.46 946.30,192.60 942.28,195.46 943.76,190.76 939.80,187.82 944.73,187.78" fill="#fafafa"/><polygon points="961.40,183.10 962.97,187.78 967.90,187.82 963.94,190.76 965.42,195.46 961.40,192.60 957.38,195.46 958.86,190.76 954.90,187.82 959.83,187.78" fill="#fafafa"/></svg>
</body></html>
